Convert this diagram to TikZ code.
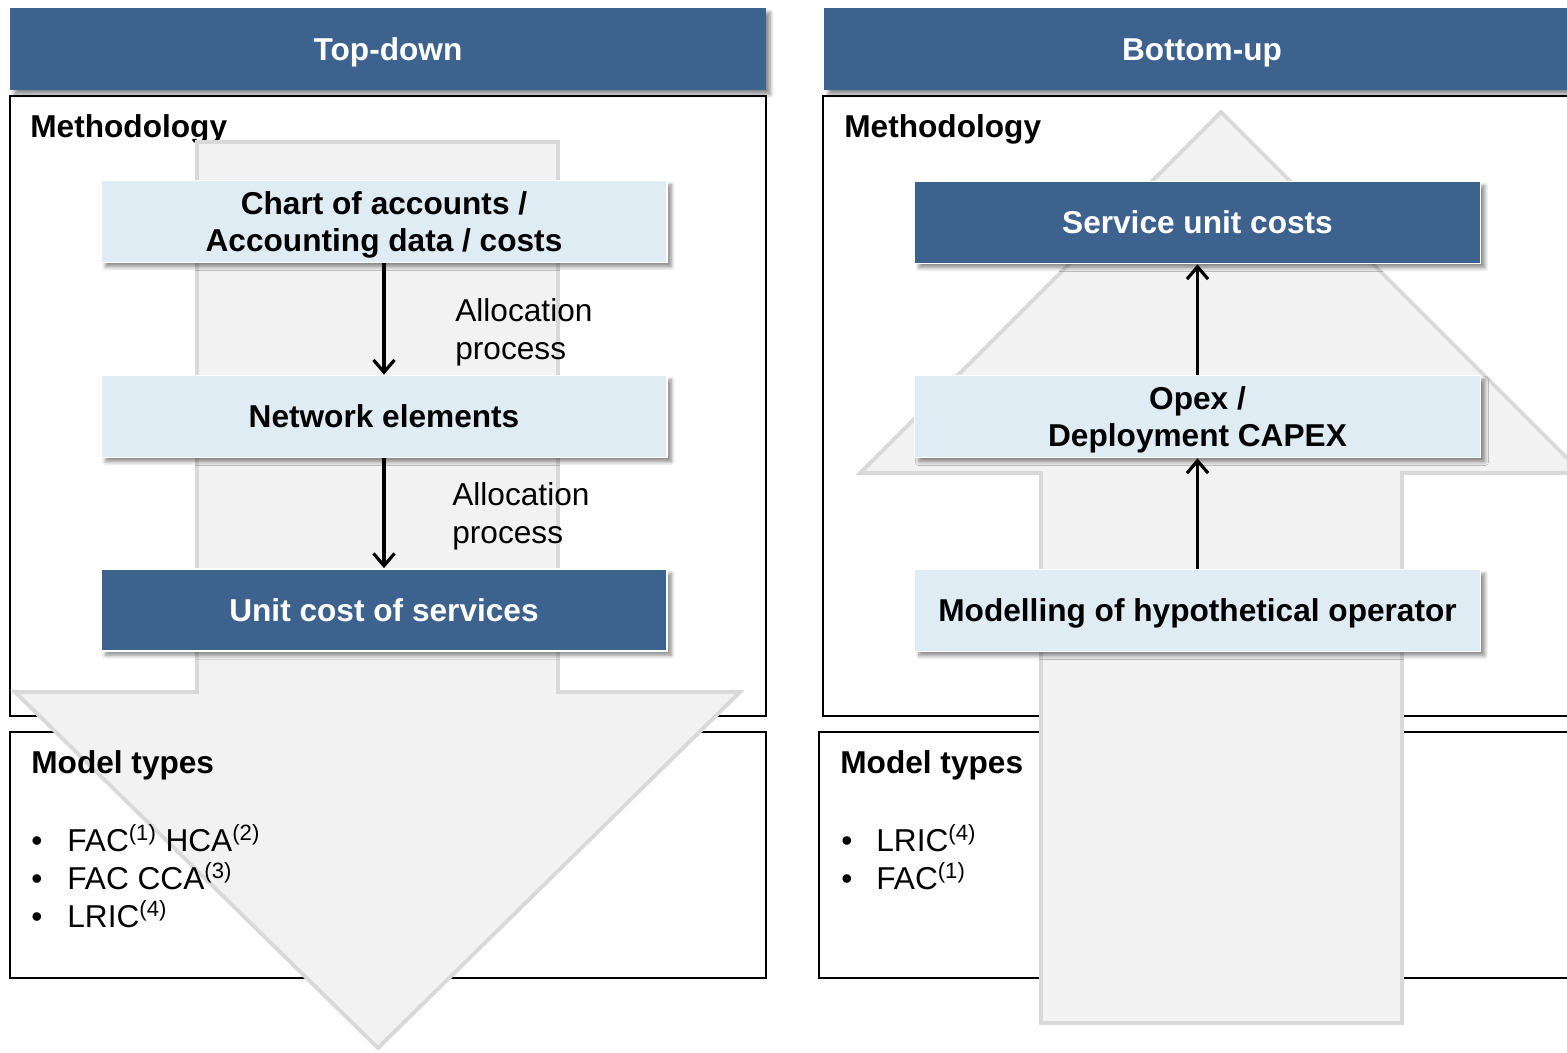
\documentclass[tikz,border=0pt]{standalone}
\usepackage{fontspec}
\setmainfont{Liberation Sans}
\usepackage{tikz}
\usetikzlibrary{arrows.meta,shadows,shadows.blur,positioning}
\usepackage{xcolor}
\definecolor{hdblue}{RGB}{62,98,142}
\definecolor{boxblue}{RGB}{223,236,243}
\definecolor{arrfill}{RGB}{242,242,242}
\definecolor{arredge}{RGB}{217,217,217}
\newcommand{\dgfont}{\fontsize{18}{21.5}\selectfont}

\tikzset{
  boxshadow/.style={blur shadow={shadow xshift=2.5pt, shadow yshift=-2.5pt, shadow blur steps=6, shadow opacity=45}},
  header/.style={fill=hdblue, text=white, font=\dgfont\bfseries, minimum width=15.12cm, minimum height=1.64cm, inner sep=0pt, text height=13pt, text depth=0pt, boxshadow},
  lightbox/.style={fill=boxblue, draw=white, line width=1pt, minimum width=11.32cm, minimum height=1.64cm, align=center, font=\dgfont\bfseries, text depth=0pt, boxshadow},
  darkbox/.style={lightbox, fill=hdblue, text=white},
  frame/.style={draw=black, line width=1.2pt},
  bigarrow/.style={fill=arrfill, draw=arredge, line width=2.2pt, line join=miter},
  conn/.style={line width=1.8pt, -{Straight Barb[length=7pt, width=12pt, line width=1.8pt]}},
  lbl/.style={inner sep=0pt, font=\dgfont},
}

\begin{document}
\begin{tikzpicture}[x=0.02cm, y=-0.02cm, font=\dgfont]
    \useasboundingbox (0,0) rectangle (1567,1052);
    \clip (0,0) rectangle (1567,1052);

    % 标题栏
    \node[header] (TD) at (388,49) {Top-down};
    \node[header] (BU) at (1202,49) {Bottom-up};

    % 外框
    \draw[frame] (10,96) rectangle (766,716);
    \draw[frame] (10,732) rectangle (766,978);
    \draw[frame] (823,96) rectangle (1600,716);
    \draw[frame] (819,732) rectangle (1600,978);

    \node[lbl, font=\dgfont\bfseries, anchor=base west] (MethL) at (30,137) {Methodology};
    \node[lbl, font=\dgfont\bfseries, anchor=base west] (MethR) at (844,137) {Methodology};

    % 大箭头
    \draw[bigarrow] (197,142) -- (558,142) -- (558,692) -- (740,692) -- (378,1048)
        -- (15,692) -- (197,692) -- cycle;
    \draw[bigarrow] (1041,1023) -- (1402,1023) -- (1402,473) -- (1582,473) -- (1221,112)
        -- (860,473) -- (1041,473) -- cycle;

    % 模型类型
    \node[lbl, font=\dgfont\bfseries, anchor=base west] (TypL) at (31,773) {Model types};
    \node[lbl, anchor=base west] (BL1) at (31,851) {•};
    \node[lbl, anchor=base west] (TL1) at (67,851) {FAC\textsuperscript{(1)} HCA\textsuperscript{(2)}};
    \node[lbl, anchor=base west] (BL2) at (31,889) {•};
    \node[lbl, anchor=base west] (TL2) at (67,889) {FAC CCA\textsuperscript{(3)}};
    \node[lbl, anchor=base west] (BL3) at (31,927) {•};
    \node[lbl, anchor=base west] (TL3) at (67,927) {LRIC\textsuperscript{(4)}};

    \node[lbl, font=\dgfont\bfseries, anchor=base west] (TypR) at (840,773) {Model types};
    \node[lbl, anchor=base west] (BR1) at (841,851) {•};
    \node[lbl, anchor=base west] (TR1) at (876,851) {LRIC\textsuperscript{(4)}};
    \node[lbl, anchor=base west] (BR2) at (841,889) {•};
    \node[lbl, anchor=base west] (TR2) at (876,889) {FAC\textsuperscript{(1)}};

    % 左侧流程
    \node[lightbox] (CA) at (384,221.5) {Chart of accounts /\\Accounting data / costs};
    \node[lightbox] (NE) at (384,416.5) {Network elements};
    \node[darkbox] (UC) at (384,610) {Unit cost of services};

    \draw[conn] (CA) -- (NE);
    \draw[conn] (NE) -- (UC);
    \node[lbl, anchor=north west, align=left] (AP1) at (455,298) {Allocation\\process};
    \node[lbl, anchor=north west, align=left] (AP2) at (452,482) {Allocation\\process};

    % 右侧流程
    \node[darkbox] (SU) at (1197.5,222.5) {Service unit costs};
    \node[lightbox] (OX) at (1197.5,416.5) {Opex /\\Deployment CAPEX};
    \node[lightbox] (MH) at (1197.5,610.5) {Modelling of hypothetical operator};

    \draw[conn] (MH) -- (OX);
    \draw[conn] (OX) -- (SU);
\end{tikzpicture}
\end{document}
